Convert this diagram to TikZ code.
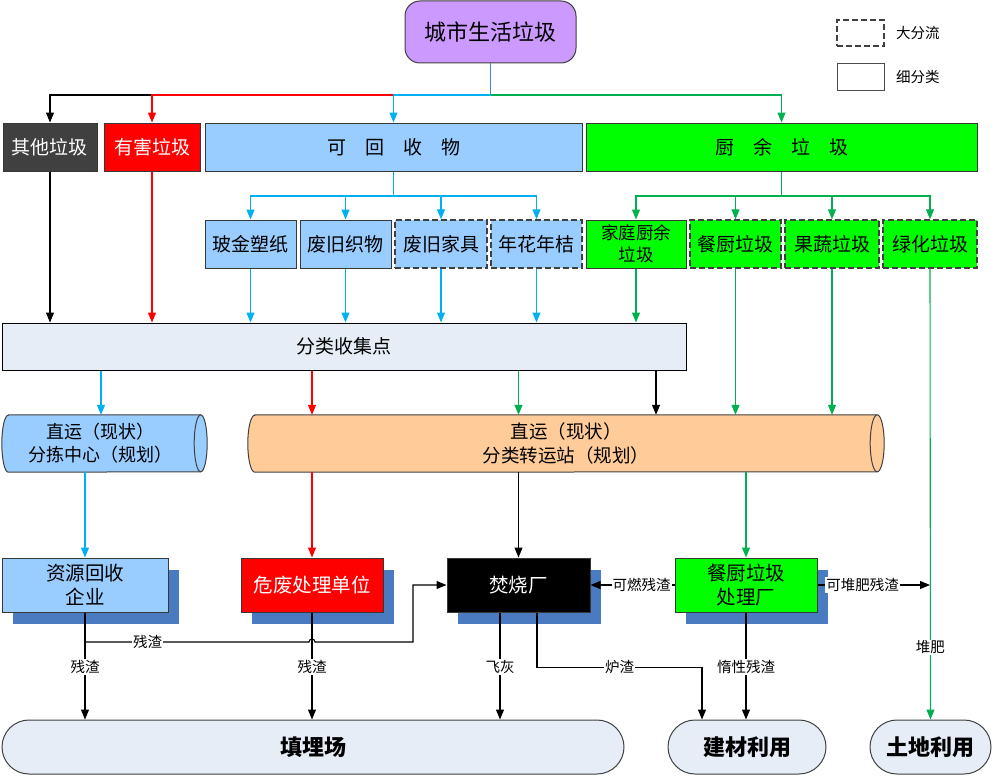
\documentclass[tikz,border=0pt]{standalone}
\usepackage{fontspec}
\newfontfamily\cjk{Noto Sans CJK SC}
\usetikzlibrary{arrows.meta,shadows,backgrounds,calc}
\definecolor{cpurple}{HTML}{CC99FF}
\definecolor{cltblue}{HTML}{99CCFF}
\definecolor{cgreen}{HTML}{00FF00}
\definecolor{cdgray}{HTML}{404040}
\definecolor{cpale}{HTML}{E6EDF7}
\definecolor{cpeach}{HTML}{FFCC99}
\definecolor{cshadow}{HTML}{4A7BC0}
\definecolor{ablue}{HTML}{00B0F0}
\definecolor{agreen}{HTML}{00B050}
\definecolor{atrunk}{HTML}{3A8CC0}
\definecolor{cborder}{HTML}{383838}
\tikzset{
  box/.style={draw=cborder, line width=1pt, inner sep=0pt, align=center,
    font=\cjk\fontsize{19}{23}\selectfont},
  dbox/.style={box, draw=cdgray, line width=1.4pt, dash pattern=on 6pt off 3pt},
  shad/.style={drop shadow={shadow xshift=11pt,shadow yshift=-12pt,fill=cshadow,opacity=1}},
  term/.style={draw=cdgray, line width=1pt, fill=cpale, rounded corners=27pt, inner sep=0pt,
    minimum height=54pt, font=\cjk\bfseries\fontsize{22}{26}\selectfont},
  arr/.style={line width=1.1pt, -{Triangle[length=10pt,width=8pt]}},
  ln/.style={line width=1.1pt},
  lbl/.style={fill=white, text=black, inner sep=1pt, font=\cjk\fontsize{14.5}{16}\selectfont},
  cyl/.style={draw=cdgray, line width=1pt},
  r1/.style={minimum height=48pt},
}
\begin{document}
\begin{tikzpicture}[x=1pt,y=-1pt]
\useasboundingbox (0,0) rectangle (993,776);
% title and legend
\node[box, draw=cdgray, fill=cpurple, rounded corners=15pt, minimum width=171pt, minimum height=62pt,
  font=\cjk\fontsize{22}{26}\selectfont] (title) at (490.5,32) {城市生活垃圾};
\node[dbox, minimum width=47pt, minimum height=26pt] (leg1) at (860.5,33) {};
\node[lbl, anchor=west] (leg1t) at (895,33) {大分流};
\node[box, draw=black!70, minimum width=47pt, minimum height=26pt] (leg2) at (860.5,77) {};
\node[lbl, anchor=west] (leg2t) at (895,77) {细分类};
% row 1
\node[box, r1, fill=cdgray, text=white, minimum width=94pt] (other) at (50,147) {其他垃圾};
\node[box, r1, fill=red, text=white, minimum width=96pt] (harm) at (152,147) {有害垃圾};
\node[box, r1, fill=cltblue, minimum width=377pt] (recyc) at (393.5,147) {可　回　收　物};
\node[box, r1, fill=cgreen, minimum width=391pt] (kitchen) at (781.5,147) {厨　余　垃　圾};
% row 2
\node[box, r1, fill=cltblue, minimum width=91pt] (glass) at (250.5,244) {玻金塑纸};
\node[box, r1, fill=cltblue, minimum width=91pt] (textile) at (345.5,244) {废旧织物};
\node[dbox, r1, fill=cltblue, minimum width=92pt] (furn) at (441,244) {废旧家具};
\node[dbox, r1, fill=cltblue, minimum width=91pt] (flower) at (536.5,244) {年花年桔};
\node[box, r1, fill=cgreen, minimum width=100pt, font=\cjk\fontsize{17.5}{22}\selectfont] (home) at (636,244) {家庭厨余\\垃圾};
\node[dbox, r1, fill=cgreen, minimum width=91pt] (rest) at (735.5,244) {餐厨垃圾};
\node[dbox, r1, fill=cgreen, minimum width=94pt] (fruit) at (832,244) {果蔬垃圾};
\node[dbox, r1, fill=cgreen, minimum width=94pt] (greenb) at (930,244) {绿化垃圾};
% collection point
\node[box, draw=black, fill=cpale, minimum width=684pt, minimum height=47pt] (collect) at (344,346.5) {分类收集点};
% cylinders
\node[inner sep=0pt, align=center, minimum width=205pt, minimum height=57pt,
  font=\cjk\fontsize{18}{23}\selectfont] (cylA) at (104.5,443.5) {直运（现状）\hspace*{8pt}\\分拣中心（规划）\hspace*{8pt}};
\node[inner sep=0pt, align=center, minimum width=636pt, minimum height=57pt,
  font=\cjk\fontsize{18.5}{24}\selectfont] (cylB) at (566,443.5) {直运（现状）\\分类转运站（规划）};
\begin{scope}[on background layer]
  \draw[cyl, fill=cltblue] ($(cylA.north west)+(6.5,0)$) -- ($(cylA.north east)+(-6.5,0)$)
    arc[start angle=90, end angle=-90, x radius=6.5pt, y radius=28.5pt]
    -- ($(cylA.south west)+(6.5,0)$)
    arc[start angle=-90, end angle=-270, x radius=6.5pt, y radius=28.5pt] -- cycle;
  \draw[cyl] ($(cylA.north east)+(-6.5,0)$) arc[start angle=90, end angle=270, x radius=6.5pt, y radius=28.5pt];
  \draw[cyl, fill=cpeach] ($(cylB.north west)+(7,0)$) -- ($(cylB.north east)+(-7,0)$)
    arc[start angle=90, end angle=-90, x radius=7pt, y radius=28.5pt]
    -- ($(cylB.south west)+(7,0)$)
    arc[start angle=-90, end angle=-270, x radius=7pt, y radius=28.5pt] -- cycle;
  \draw[cyl] ($(cylB.north east)+(-7,0)$) arc[start angle=90, end angle=270, x radius=7pt, y radius=28.5pt];
\end{scope}
% row 4
\node[box, shad, fill=cltblue, minimum width=166pt, minimum height=54pt, font=\cjk\fontsize{19.5}{24}\selectfont] (res) at (85,585) {资源回收\\企业};
\node[box, shad, fill=red, text=white, minimum width=142pt, minimum height=54pt, font=\cjk\fontsize{19.5}{24}\selectfont] (haz) at (312,585) {危废处理单位};
\node[box, shad, fill=black, text=white, minimum width=143pt, minimum height=54pt, font=\cjk\fontsize{19.5}{24}\selectfont] (inc) at (518.5,585) {焚烧厂};
\node[box, shad, fill=cgreen, minimum width=142pt, minimum height=54pt, font=\cjk\fontsize{19.5}{24}\selectfont] (kproc) at (746,585) {餐厨垃圾\\处理厂};
% terminals
\node[term, minimum width=622pt] (landfill) at (313,747) {填埋场};
\node[term, minimum width=158pt] (build) at (747,747) {建材利用};
\node[term, minimum width=121pt] (land) at (930.5,747) {土地利用};
% helper coordinates
\coordinate (j1) at (490.5,95);
\coordinate (j2) at (393.5,196);
\coordinate (j3) at (781.5,196);
\coordinate (xa) at (101,0);
\coordinate (xc) at (656,0);
\coordinate (xd) at (500,0);
\coordinate (xe) at (537,0);
\coordinate (xf) at (702,0);
\coordinate (b1) at (85,642);
\coordinate (b2) at (413,642);
% top split
\draw[ln, atrunk] (title.south) -- (j1);
\draw[arr, black] (j1) -| (other.north);
\draw[arr, red] (j1) -| (harm.north);
\draw[arr, ablue] (j1) -| (recyc.north);
\draw[arr, agreen] (j1) -| (kitchen.north);
% recyclable split
\draw[ln, ablue] (recyc.south) -- (j2);
\draw[arr, ablue] (j2) -| (glass.north);
\draw[arr, ablue] (j2) -| (textile.north);
\draw[arr, ablue] (j2) -| (furn.north);
\draw[arr, ablue] (j2) -| (flower.north);
% kitchen split
\draw[ln, agreen] (kitchen.south) -- (j3);
\draw[arr, agreen] (j3) -| (home.north);
\draw[arr, agreen] (j3) -| (rest.north);
\draw[arr, agreen] (j3) -| (fruit.north);
\draw[arr, agreen] (j3) -| (greenb.north);
% to collection point
\draw[arr, black] (other.south) -- (other.south |- collect.north);
\draw[arr, red] (harm.south) -- (harm.south |- collect.north);
\draw[arr, ablue] (glass.south) -- (glass.south |- collect.north);
\draw[arr, ablue] (textile.south) -- (textile.south |- collect.north);
\draw[arr, ablue] (furn.south) -- (furn.south |- collect.north);
\draw[arr, ablue] (flower.south) -- (flower.south |- collect.north);
\draw[arr, agreen] (home.south) -- (home.south |- collect.north);
% collection to transfer
\draw[arr, ablue] (collect.south -| xa) -- (cylA.north -| xa);
\draw[arr, red] (collect.south -| haz.north) -- (cylB.north -| haz.north);
\draw[arr, agreen] (collect.south -| inc.north) -- (cylB.north -| inc.north);
\draw[arr, black] (collect.south -| xc) -- (cylB.north -| xc);
\draw[arr, agreen] (rest.south) -- (rest.south |- cylB.north);
\draw[arr, agreen] (fruit.south) -- (fruit.south |- cylB.north);
\draw[arr, agreen] (greenb.south) -- node[lbl, pos=0.84] {堆肥} (land.north);
% transfer to treatment
\draw[arr, ablue] (cylA.south -| res.north) -- (res.north);
\draw[arr, red] (cylB.south -| haz.north) -- (haz.north);
\draw[arr, black] (cylB.south -| inc.north) -- (inc.north);
\draw[arr, agreen] (cylB.south -| kproc.north) -- (kproc.north);
% treatment outputs
\draw[arr, black] (kproc.west) -- node[lbl, pos=0.39] {可燃残渣} (inc.east);
\draw[arr, black] (kproc.east) -- node[lbl, pos=0.4] {可堆肥残渣} (kproc.east -| greenb.south);
\draw[arr, black] (res.south) -- node[lbl, pos=0.51] {残渣} (res.south |- landfill.north);
\draw[arr, black] (b1) -- node[lbl, pos=0.28] {残渣} (309,642)
  arc[start angle=180, end angle=0, radius=3pt] -- (b2) |- (inc.west);
\draw[arr, black] (haz.south) -- node[lbl, pos=0.51] {残渣} (haz.south |- landfill.north);
\draw[arr, black] (inc.south -| xd) -- node[lbl, pos=0.51] {飞灰} (landfill.north -| xd);
\draw[arr, black] (inc.south -| xe) -- ++(0,55) -| node[lbl, pos=0.25] {炉渣} (build.north -| xf);
\draw[arr, black] (kproc.south) -- node[lbl, pos=0.51] {惰性残渣} (kproc.south |- build.north);
\end{tikzpicture}
\end{document}
